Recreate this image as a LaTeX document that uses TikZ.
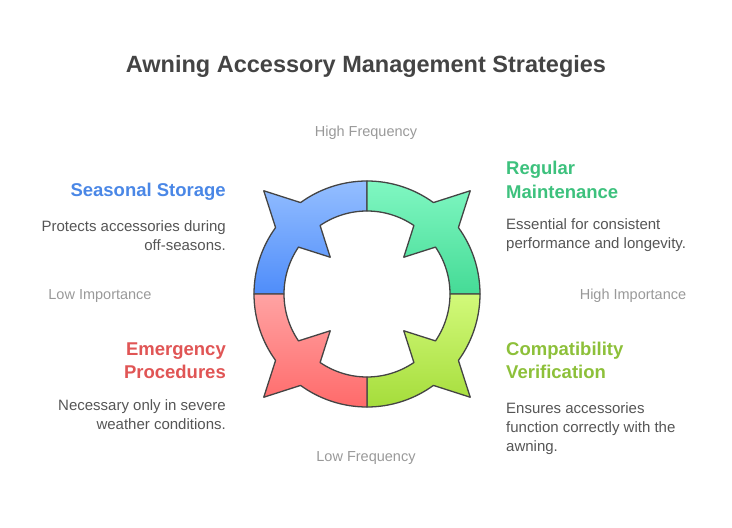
\documentclass[tikz,border=0pt]{standalone}
\usepackage{fontspec}
\setmainfont{Liberation Sans}
\usetikzlibrary{positioning,calc}

\definecolor{ringline}{HTML}{444444}
\definecolor{titlegray}{HTML}{444444}
\definecolor{bodygray}{HTML}{555555}
\definecolor{axisgray}{HTML}{999999}
\definecolor{storeblue}{HTML}{4A87E6}
\definecolor{maintgreen}{HTML}{3DC17D}
\definecolor{emergred}{HTML}{E05555}
\definecolor{compatlime}{HTML}{8DC03A}

\begin{document}
\begin{tikzpicture}[
    x=1pt, y=1pt,
    quad/.style={draw=ringline, line width=1.3pt, line join=round},
    heading/.style={inner sep=0pt, font=\fontsize{18.5}{23.5}\selectfont\bfseries},
    desc/.style={inner sep=0pt, font=\fontsize{15}{19}\selectfont, text=bodygray},
    axis/.style={inner sep=0pt, font=\fontsize{14.5}{16}\selectfont, text=axisgray}
]
\useasboundingbox (0,0) rectangle (732,528);

% title
\node[font=\fontsize{23.5}{27}\selectfont\bfseries, text=titlegray] (title) at (366,462) {Awning Accessory Management Strategies};

% ring of four quadrants
\coordinate (c) at (367,234);
\begin{scope}[shift={(c)}]
\foreach \a/\tc/\bc/\nm in {90/94BEFF/4F8DFA/store, 0/80F7C2/45DB96/maint, 270/D2F97A/A5DD3B/compat, 180/FFA3A3/FF6A6A/emerg}{
    \pgfmathsetmacro{\m}{\a+45}
    \pgfmathsetmacro{\e}{\a+90}
    \definecolor{qtop}{HTML}{\tc}
    \definecolor{qbot}{HTML}{\bc}
    \draw[quad, top color=qtop, bottom color=qbot]
        (\a:113) arc[start angle=\a, end angle=\m-9, radius=113]
        -- (\m:146) -- (\m+9:113)
        arc[start angle=\m+9, end angle=\e, radius=113]
        -- (\e:83)
        arc[start angle=\e, end angle=\m+10.6, radius=83]
        -- (\m:52) -- (\m-10.6:83)
        arc[start angle=\m-10.6, end angle=\a, radius=83]
        -- cycle;
}
\end{scope}

% axis labels
\node[axis] (hifreq) at (366,395) {High Frequency};
\node[axis] (lofreq) at (366,70) {Low Frequency};
\node[axis] (loimp) at (100,232) {Low Importance};
\node[axis] (hiimp) at (633,232) {High Importance};

% quadrant texts
\node[heading, text=storeblue, anchor=east, align=right] (store) at (226,336) {Seasonal Storage};
\node[desc, anchor=east, align=right] (storetxt) at (226,292.5) {Protects accessories during\\off-seasons.};

\node[heading, text=maintgreen, anchor=west, align=left] (maint) at (506,348) {Regular\\Maintenance};
\node[desc, anchor=west, align=left] (mainttxt) at (506,292.5) {Essential for consistent\\performance and longevity.};

\node[heading, text=emergred, anchor=east, align=right] (emerg) at (226,167.5) {Emergency\\Procedures};
\node[desc, anchor=east, align=right] (emergtxt) at (226,113) {Necessary only in severe\\weather conditions.};

\node[heading, text=compatlime, anchor=west, align=left] (compat) at (506,167.5) {Compatibility\\Verification};
\node[desc, anchor=west, align=left] (compattxt) at (506,99.5) {Ensures accessories\\function correctly with the\\awning.};
\end{tikzpicture}
\end{document}
